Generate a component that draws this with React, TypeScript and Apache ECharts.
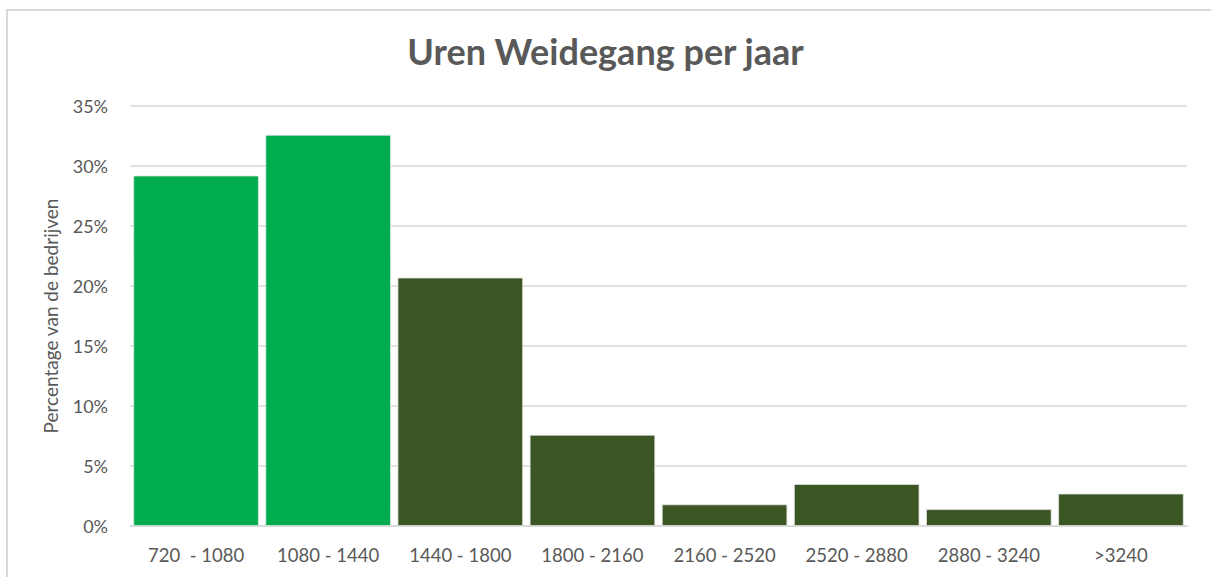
import React, { useEffect, useRef } from "react";
import * as echarts from "echarts";

const categories = ["720  - 1080", "1080 - 1440", "1440 - 1800", "1800 - 2160", "2160 - 2520", "2520 - 2880", "2880 - 3240", ">3240"];
const percentages = [29.2, 32.6, 20.7, 7.6, 1.8, 3.5, 1.4, 2.7];
const highlightedCount = 2;
const titleText = "Uren Weidegang per jaar";
const yAxisName = "Percentage van de bedrijven";

export default function App() {
  const ref = useRef<HTMLDivElement>(null);
  useEffect(() => {
    if (!ref.current) return;
    const chart = echarts.init(ref.current, undefined, { renderer: "svg" });
    const font = "Lato, 'Open Sans', sans-serif";
    chart.setOption({
      animation: false,
      backgroundColor: "#ffffff",
      textStyle: { fontFamily: font },
      title: {
        text: titleText,
        left: "center",
        top: 28,
        textStyle: { fontFamily: font, fontSize: 36, fontWeight: "bold", color: "#595959" },
      },
      graphic: [
        {
          type: "rect",
          shape: { x: 7, y: 10, width: 1300, height: 700 },
          style: { fill: "none", stroke: "#d9d9d9", lineWidth: 2 },
          silent: true,
        },
      ],
      grid: { left: 130, right: 24, top: 106, bottom: 51 },
      xAxis: {
        type: "category",
        data: categories,
        axisLine: { lineStyle: { color: "#d9d9d9", width: 1.5 } },
        axisTick: { show: false },
        axisLabel: { color: "#595959", fontSize: 18.5, margin: 19, interval: 0, hideOverlap: false, fontFamily: font },
      },
      yAxis: {
        type: "value",
        min: 0,
        max: 35,
        interval: 5,
        name: yAxisName,
        nameLocation: "middle",
        nameGap: 70,
        nameTextStyle: { color: "#595959", fontSize: 19, fontFamily: font },
        axisLine: { show: false },
        axisTick: { show: false },
        axisLabel: { color: "#595959", fontSize: 18, margin: 22, formatter: "{value}%", fontFamily: font },
        splitLine: { lineStyle: { color: "#d9d9d9", width: 1.5 } },
      },
      series: [
        {
          type: "bar",
          data: percentages,
          barCategoryGap: "5%",
          itemStyle: {
            color: (p: any) => (p.dataIndex < highlightedCount ? "#00ad4e" : "#3b5623"),
            borderColor: "#e6e6e6",
            borderWidth: 0.8,
          },
        },
      ],
    });
    return () => chart.dispose();
  }, []);
  return <div ref={ref} style={{ position: "fixed", left: 0, top: 0, width: 1211, height: 577 }} />;
}
